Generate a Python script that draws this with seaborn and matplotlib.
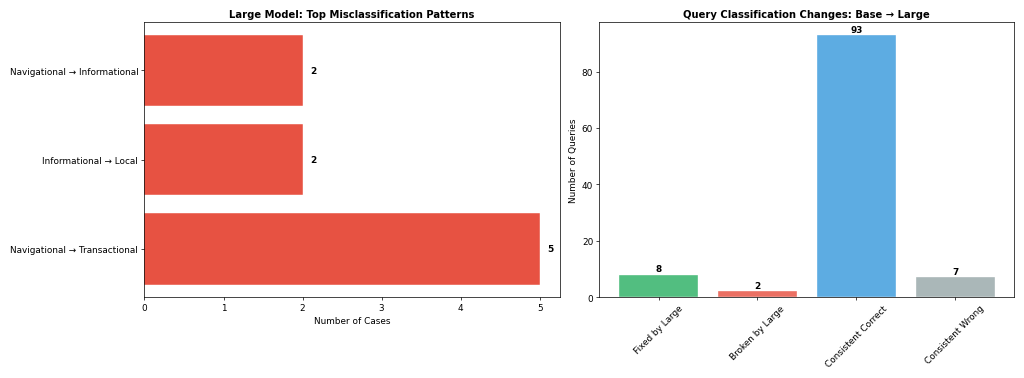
import pandas as pd
import matplotlib.pyplot as plt
import seaborn as sns

# Data
error_patterns = ["Navigational → Informational", "Informational → Local", "Navigational → Transactional"]
error_counts = [2, 2, 5]

change_labels = ["Fixed by Large", "Broken by Large", "Consistent Correct", "Consistent Wrong"]
change_counts = [8, 2, 93, 7]
change_colors = ["#27ae60", "#e74c3c", "#3498db", "#95a5a6"]

df_err = pd.DataFrame({"pattern": error_patterns, "count": error_counts})
df_chg = pd.DataFrame({"label": change_labels, "count": change_counts})

fig, axes = plt.subplots(1, 2, figsize=(16, 5.92), dpi=64)

# Left: horizontal bars
ax = axes[0]
sns.barplot(data=df_err, y="pattern", x="count", ax=ax, color="#e74c3c",
            saturation=1, alpha=0.97, width=0.8, edgecolor="white", linewidth=0.5)
ax.set_ylim(len(error_patterns) - 1 + 0.54, -0.54)
ax.set_xlim(0, max(error_counts) * 1.05)
for i, v in enumerate(error_counts):
    ax.text(v + 0.1, i, str(v), va="center", fontweight="bold")
ax.set_xlabel("Number of Cases")
ax.set_ylabel("")
ax.set_title("Large Model: Top Misclassification Patterns", fontweight="bold", fontsize=11.2)

# Right: vertical bars
ax = axes[1]
sns.barplot(data=df_chg, x="label", y="count", hue="label", palette=change_colors,
            legend=False, ax=ax, saturation=1, alpha=0.8, width=0.8,
            edgecolor="white", linewidth=0.5)
ax.set_xlim(-0.6, len(change_labels) - 1 + 0.6)
ax.set_ylim(0, max(change_counts) * 1.05)
for i, v in enumerate(change_counts):
    ax.text(i, v + 0.5, str(v), ha="center", va="bottom", fontweight="bold")
ax.set_xlabel("")
ax.set_ylabel("Number of Queries")
ax.set_title("Query Classification Changes: Base → Large", fontweight="bold", fontsize=11.2)
ax.tick_params(axis="x", rotation=45)

plt.tight_layout()
plt.savefig("out.png")
